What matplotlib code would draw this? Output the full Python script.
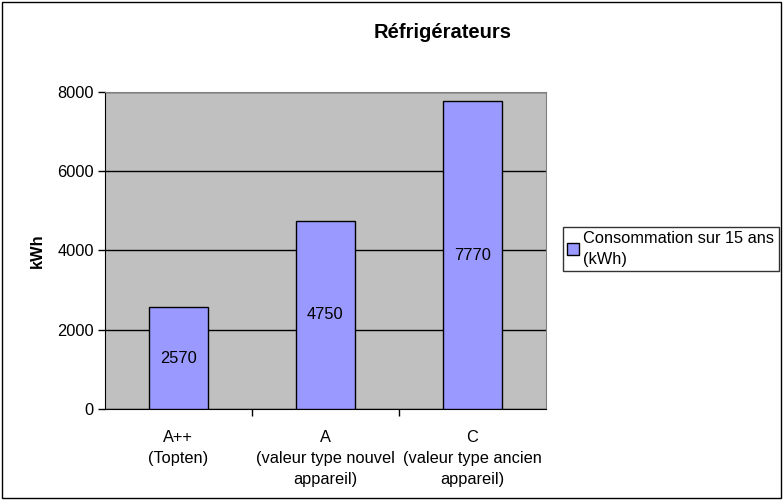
import matplotlib.pyplot as plt
from matplotlib.patches import Rectangle

plt.rcParams["font.family"] = ["Liberation Sans", "DejaVu Sans"]

categories = ["A++\n(Topten)", "A\n(valeur type nouvel\nappareil)", "C\n(valeur type ancien\nappareil)"]
values = [2570, 4750, 7770]
series_name = "Consommation sur 15 ans\n(kWh)"
yticks = [0, 2000, 4000, 6000, 8000]

fs = 11.8

fig = plt.figure(figsize=(7.83, 5), dpi=100)
fig.patches.append(Rectangle((0.002, 0.004), 0.995, 0.993, transform=fig.transFigure,
                             fill=False, edgecolor="black", linewidth=1))
ax = fig.add_axes([0.134, 0.182, 0.563, 0.634])
ax.set_facecolor("#C0C0C0")

x = list(range(len(values)))
bars = ax.bar(x, values, width=0.4, color="#9999FF", edgecolor="black", linewidth=1,
              zorder=3, label=series_name)
for xi, v in zip(x, values):
    ax.text(xi, v / 2, str(v), ha="center", va="center", fontsize=fs, zorder=4)

ax.set_xlim(-0.5, len(values) - 0.5)
ax.set_ylim(0, 8000)
ax.set_yticks(yticks)
ax.set_yticklabels([str(t) for t in yticks], fontsize=fs)
ax.yaxis.grid(True, color="black", linewidth=1, zorder=1)
ax.set_axisbelow(True)
ax.tick_params(axis="y", direction="out", length=5, width=1, pad=3)

ax.set_xticks(x)
ax.set_xticklabels(categories, fontsize=fs, linespacing=1.5)
ax.tick_params(axis="x", length=0, pad=15)
ax.set_xticks([0.5, 1.5], minor=True)
ax.tick_params(axis="x", which="minor", direction="out", length=5, width=1)

for side in ["top", "right"]:
    ax.spines[side].set_color("#808080")
for side in ["left", "bottom"]:
    ax.spines[side].set_color("black")

ax.set_ylabel("kWh", fontsize=fs, fontweight="bold", labelpad=9)
fig.text(0.565, 0.934, "Réfrigérateurs", ha="center", va="center",
         fontsize=14.5, fontweight="bold")

leg = fig.legend(handles=[bars], labels=[series_name], loc="upper left",
                 bbox_to_anchor=(0.719, 0.547), fontsize=fs, frameon=True,
                 fancybox=False, edgecolor="black", handlelength=0.7, handleheight=0.7,
                 handletextpad=0.3, borderpad=0.25, borderaxespad=0, labelspacing=0.2)
leg.get_texts()[0].set_linespacing(1.5)
leg.get_frame().set_linewidth(1)

fig.savefig("out.png", dpi=100)
